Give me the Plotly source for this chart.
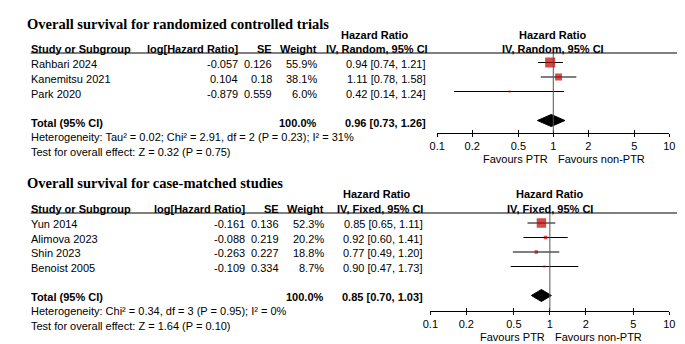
import plotly.graph_objects as go

# ---------------- data ----------------
tick_vals = [0.1, 0.2, 0.5, 1, 2, 5, 10]
tick_text = ["0.1", "0.2", "0.5", "1", "2", "5", "10"]

rct_title = "Overall survival for randomized controlled trials"
rct_studies = ["Rahbari 2024", "Kanemitsu 2021", "Park 2020"]
rct_loghr = [-0.057, 0.104, -0.879]
rct_se = [0.126, 0.18, 0.559]
rct_weight = [55.9, 38.1, 6.0]
rct_hr = [0.94, 1.11, 0.42]
rct_lo = [0.74, 0.78, 0.14]
rct_hi = [1.21, 1.58, 1.24]
rct_total = [0.96, 0.73, 1.26]
rct_method = "IV, Random, 95% CI"
rct_het = "Heterogeneity: Tau² = 0.02; Chi² = 2.91, df = 2 (P = 0.23); I² = 31%"
rct_test = "Test for overall effect: Z = 0.32 (P = 0.75)"

cm_title = "Overall survival for case-matched studies"
cm_studies = ["Yun 2014", "Alimova 2023", "Shin 2023", "Benoist 2005"]
cm_loghr = [-0.161, -0.088, -0.263, -0.109]
cm_se = [0.136, 0.219, 0.227, 0.334]
cm_weight = [52.3, 20.2, 18.8, 8.7]
cm_hr = [0.85, 0.92, 0.77, 0.90]
cm_lo = [0.65, 0.60, 0.49, 0.47]
cm_hi = [1.11, 1.41, 1.20, 1.73]
cm_total = [0.85, 0.70, 1.03]
cm_method = "IV, Fixed, 95% CI"
cm_het = "Heterogeneity: Chi² = 0.34, df = 3 (P = 0.95); I² = 0%"
cm_test = "Test for overall effect: Z = 1.64 (P = 0.10)"

favour_left = "Favours PTR"
favour_right = "Favours non-PTR"

# ---------------- layout / style ----------------
W, H = 685, 344
SANS = "Liberation Sans, Arial, sans-serif"
SERIF = "Liberation Serif, Times New Roman, serif"
RED = "#c00000"

panels = [
    dict(title=rct_title, studies=rct_studies, loghr=rct_loghr, se=rct_se, weight=rct_weight,
         hr=rct_hr, lo=rct_lo, hi=rct_hi, total=rct_total, method=rct_method,
         het=rct_het, test=rct_test, xa="x", ya="y", xo="x3", n=1, no=3,
         title_y=16, hr_y=27, head_y=41, line_y=45, row0=56.5, sp=14.5, mark_off=-2,
         axis_y=124.5, px0=430, px1=667,
         c_loghr=227, c_se=261, c_w=307, c_hr=419, c_hrhead=369),
    dict(title=cm_title, studies=cm_studies, loghr=cm_loghr, se=cm_se, weight=cm_weight,
         hr=cm_hr, lo=cm_lo, hi=cm_hi, total=cm_total, method=cm_method,
         het=cm_het, test=cm_test, xa="x2", ya="y2", xo="x4", n=2, no=4,
         title_y=175, hr_y=186, head_y=201, line_y=205, row0=216, sp=14.5, mark_off=-1,
         axis_y=302.5, px0=423, px1=667,
         c_loghr=234, c_se=268, c_w=314, c_hr=416, c_hrhead=372),
]

fig = go.Figure()
annotations = []
shapes = []


def py(ypx):
    return 1 - ypx / H


def txt(x, y, s, anchor="left", bold=False, size=11, family=SANS):
    annotations.append(dict(
        x=x / W, y=py(y), xref="paper", yref="paper", text=(f"<b>{s}</b>" if bold else s),
        showarrow=False, xanchor=anchor, yanchor="middle",
        font=dict(family=family, size=size, color="#000000"), borderpad=0, borderwidth=0))


for p in panels:
    k = len(p["studies"])
    rows = list(range(k))
    total_row = k + 1
    # whiskers
    wx, wy = [], []
    for i in rows:
        wx += [p["lo"][i], p["hi"][i], None]
        wy += [i, i, None]
    fig.add_trace(go.Scatter(x=wx, y=wy, mode="lines", line=dict(color="black", width=1),
                             xaxis=p["xa"], yaxis=p["ya"], showlegend=False, hoverinfo="skip"))
    # squares
    fig.add_trace(go.Scatter(x=p["hr"], y=rows, mode="markers",
                             marker=dict(symbol="square", color=RED,
                                         size=[max(2.2, w * 0.18) for w in p["weight"]],
                                         line=dict(width=0)),
                             xaxis=p["xa"], yaxis=p["ya"], showlegend=False))
    # diamond
    est, dlo, dhi = p["total"]
    hh = 6.0 / p["sp"]
    fig.add_trace(go.Scatter(x=[dlo, est, dhi, est, dlo],
                             y=[total_row, total_row - hh, total_row, total_row + hh, total_row],
                             mode="lines", fill="toself", fillcolor="black",
                             line=dict(color="black", width=1),
                             xaxis=p["xa"], yaxis=p["ya"], showlegend=False))
    # invisible trace for overlay tick axis
    fig.add_trace(go.Scatter(x=[1], y=[0], mode="markers", marker=dict(opacity=0),
                             xaxis=p["xo"], yaxis=p["ya"], showlegend=False, hoverinfo="skip"))

    top = (p["line_y"] - p["row0"] - p["mark_off"]) / p["sp"]
    bot = (p["axis_y"] - p["row0"] - p["mark_off"]) / p["sp"]
    dom_y = [(H - p["axis_y"]) / H, (H - p["line_y"]) / H]
    dom_x = [p["px0"] / W, p["px1"] / W]
    axis_common = dict(type="log", range=[-1, 1], domain=dom_x, showgrid=False, zeroline=False,
                       tickmode="array", tickvals=tick_vals, fixedrange=True)
    xname = "xaxis" if p["n"] == 1 else f"xaxis{p['n']}"
    yname = "yaxis" if p["n"] == 1 else f"yaxis{p['n']}"
    oname = f"xaxis{p['no']}"
    fig.update_layout(**{
        xname: dict(**axis_common, anchor=p["ya"], ticktext=tick_text, showline=True,
                    linecolor="black", linewidth=1, ticks="outside", ticklen=3, tickwidth=1,
                    tickcolor="black", ticklabelstandoff=0,
                    tickfont=dict(family=SANS, size=11, color="black")),
        oname: dict(**axis_common, anchor=p["ya"], overlaying=p["xa"], showline=False,
                    ticks="inside", ticklen=3, tickwidth=1, tickcolor="black",
                    showticklabels=False),
        yname: dict(domain=dom_y, range=[bot, top], visible=False, fixedrange=True,
                    showgrid=False, zeroline=False),
    })

    # reference line at 1
    shapes.append(dict(type="line", xref=p["xa"], x0=1, x1=1, yref=f"{p['ya']} domain",
                       y0=0, y1=1, line=dict(color="#555555", width=1)))
    # header rule
    shapes.append(dict(type="line", xref="paper", yref="paper", x0=15 / W, x1=677 / W,
                       y0=py(p["line_y"]), y1=py(p["line_y"]), line=dict(color="black", width=1)))

    # texts
    one_px = p["px0"] + (p["px1"] - p["px0"]) / 2
    txt(11, p["title_y"], p["title"], bold=True, size=14.5, family=SERIF)
    txt(p["c_hrhead"] - 3, p["hr_y"], "Hazard Ratio", anchor="center", bold=True)
    txt(one_px, p["hr_y"], "Hazard Ratio", anchor="center", bold=True)
    txt(15, p["head_y"], "Study or Subgroup", bold=True)
    txt(p["c_loghr"], p["head_y"], "log[Hazard Ratio]", anchor="right", bold=True)
    txt(p["c_se"], p["head_y"], "SE", anchor="right", bold=True)
    txt(p["c_w"], p["head_y"], "Weight", anchor="right", bold=True)
    txt(p["c_hrhead"], p["head_y"], p["method"], anchor="center", bold=True)
    txt(one_px, p["head_y"], p["method"], anchor="center", bold=True)
    for i in rows:
        y = p["row0"] + i * p["sp"]
        txt(15, y, p["studies"][i])
        txt(p["c_loghr"], y, str(p["loghr"][i]), anchor="right")
        txt(p["c_se"], y, str(p["se"][i]), anchor="right")
        txt(p["c_w"], y, f"{p['weight'][i]:.1f}%", anchor="right")
        txt(p["c_hr"], y, f"{p['hr'][i]:.2f} [{p['lo'][i]:.2f}, {p['hi'][i]:.2f}]", anchor="right")
    yt = p["row0"] + total_row * p["sp"]
    txt(15, yt, "Total (95% CI)", bold=True)
    txt(p["c_w"], yt, f"{sum(p['weight']):.1f}%", anchor="right", bold=True)
    txt(p["c_hr"], yt, f"{est:.2f} [{dlo:.2f}, {dhi:.2f}]", anchor="right", bold=True)
    txt(15, yt + p["sp"], p["het"])
    txt(15, yt + 2 * p["sp"], p["test"])
    txt(one_px - 5, p["axis_y"] + 26.5, favour_left, anchor="right")
    txt(one_px + 5, p["axis_y"] + 26.5, favour_right, anchor="left")

fig.update_layout(width=W, height=H, margin=dict(l=0, r=0, t=0, b=0),
                  paper_bgcolor="white", plot_bgcolor="white", showlegend=False,
                  annotations=annotations, shapes=shapes)

fig.write_html("out.html")
